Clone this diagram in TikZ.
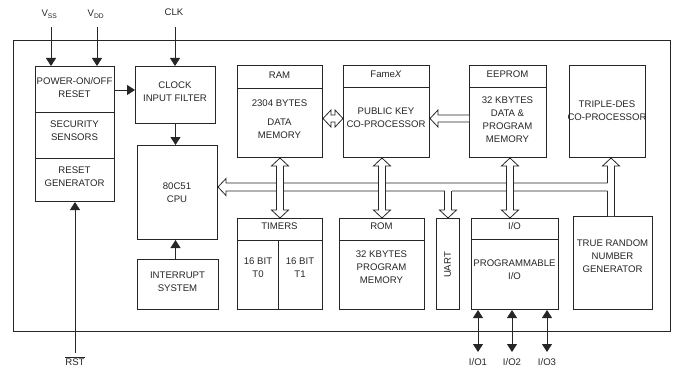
\documentclass[tikz,border=0pt]{standalone}
\usepackage{fontspec}
\setmainfont{Liberation Sans}
\usetikzlibrary{calc,arrows.meta}

% sizes of the hollow bus arrows
\newcommand{\stemw}{3.5pt}
\newcommand{\busw}{4pt}
\newcommand{\headw}{8.5pt}
\newcommand{\headl}{8pt}

% two-headed vertical bus arrow: #1 upper tip, #2 lower tip (x taken from #2)
\newcommand{\vbus}[2]{%
  \draw[hollow] let \p1=(#1), \p2=(#2) in
    (\x2-\stemw,\y1-\headl) -- (\x2-\headw,\y1-\headl) -- (\x2,\y1)
    -- (\x2+\headw,\y1-\headl) -- (\x2+\stemw,\y1-\headl)
    -- (\x2+\stemw,\y2+\headl) -- (\x2+\headw,\y2+\headl) -- (\x2,\y2)
    -- (\x2-\headw,\y2+\headl) -- (\x2-\stemw,\y2+\headl) -- cycle;}

% two-headed horizontal bus arrow: #1 left tip, #2 right tip (y taken from #1)
\newcommand{\hbus}[2]{%
  \draw[hollow] let \p1=(#1), \p2=(#2) in
    (\x1+\headl,\y1+\stemw) -- (\x1+\headl,\y1+\headw) -- (\x1,\y1)
    -- (\x1+\headl,\y1-\headw) -- (\x1+\headl,\y1-\stemw)
    -- (\x2-\headl,\y1-\stemw) -- (\x2-\headl,\y1-\headw) -- (\x2,\y1)
    -- (\x2-\headl,\y1+\headw) -- (\x2-\headl,\y1+\stemw) -- cycle;}

% left pointing arrow with open tail: tip #1, tail #2, half width #3,
% outline stops #4 before the tail
\newcommand{\hleft}[4]{%
  \fill[white] let \p1=(#1), \p2=(#2) in (\x1+\headl,\y1-#3) rectangle (\x2,\y1+#3);
  \draw[hollow] let \p1=(#1), \p2=(#2) in
    (\x2-#4,\y1+#3) -- (\x1+\headl,\y1+#3) -- (\x1+\headl,\y1+\headw) -- (\x1,\y1)
    -- (\x1+\headl,\y1-\headw) -- (\x1+\headl,\y1-#3) -- (\x2-#4,\y1-#3);}

% vertical arrow with open tail: tip #1, root #2, white overlap #3 past the root
\newcommand{\vbranch}[3]{%
  \fill[white] let \p1=(#1), \p2=(#2), \n1={(\y1-\y2)/abs(\y1-\y2)} in
    ({\x1-\stemw},{\y2-\n1*#3}) rectangle ({\x1+\stemw},{\y1-\n1*\headl});
  \draw[hollow] let \p1=(#1), \p2=(#2), \n1={(\y1-\y2)/abs(\y1-\y2)},
      \n2={\y1-\n1*\headl} in
    (\x1-\stemw,\y2) -- (\x1-\stemw,\n2) -- (\x1-\headw,\n2)
    -- (\x1,\y1) -- (\x1+\headw,\n2) -- (\x1+\stemw,\n2)
    -- (\x1+\stemw,\y2);}

\begin{document}
\begin{tikzpicture}[x=1pt, y=-1pt,
  font=\fontsize{9.6}{13}\selectfont, text=black!85,
  blk/.style={draw=black!85, line width=1pt, fill=white, inner sep=0pt, anchor=north west},
  txt/.style={align=center, inner sep=0pt},
  sig/.style={draw=black!85, line width=1pt, -{Triangle[width=10pt,length=8pt]}},
  hollow/.style={draw=black!85, line width=0.8pt, fill=white, line join=miter}]
  \useasboundingbox (0,0) rectangle (674,369);

  % chip outline
  \draw[draw=black!85, line width=1pt] (13,41) rectangle (670,331);

  % blocks
  \node[blk, minimum width=79pt, minimum height=135pt] (power)  at (35,66)  {};
  \node[blk, minimum width=80pt, minimum height=57pt]  (clock)  at (135,66) {};
  \node[blk, minimum width=80pt, minimum height=94pt]  (cpu)    at (137,145) {};
  \node[blk, minimum width=81pt, minimum height=50pt]  (intr)   at (137,259) {};
  \node[blk, minimum width=85pt, minimum height=92pt]  (ram)    at (237,65) {};
  \node[blk, minimum width=86pt, minimum height=92pt]  (fame)   at (343,65) {};
  \node[blk, minimum width=77pt, minimum height=92pt]  (eeprom) at (469,65) {};
  \node[blk, minimum width=76pt, minimum height=92pt]  (tdes)   at (569,65) {};
  \node[blk, minimum width=85pt, minimum height=91pt]  (timers) at (237,218) {};
  \node[blk, minimum width=85pt, minimum height=91pt]  (rom)    at (339,218) {};
  \node[blk, minimum width=23pt, minimum height=91pt]  (uart)   at (436,218) {};
  \node[blk, minimum width=87pt, minimum height=91pt]  (io)     at (471,218) {};
  \node[blk, minimum width=79pt, minimum height=93pt]  (trng)   at (573,216) {};

  % header and section lines
  \draw[draw=black!85, line width=1pt]
    ([yshift=-46pt]power.north west) -- ([yshift=-46pt]power.north east)
    ([yshift=-92pt]power.north west) -- ([yshift=-92pt]power.north east)
    ([yshift=-23pt]ram.north west) -- ([yshift=-23pt]ram.north east)
    ([yshift=-22pt]fame.north west) -- ([yshift=-22pt]fame.north east)
    ([yshift=-22pt]eeprom.north west) -- ([yshift=-22pt]eeprom.north east)
    ([yshift=-22pt]timers.north west) -- ([yshift=-22pt]timers.north east)
    ([xshift=41pt,yshift=-22pt]timers.north west) -- ([xshift=41pt]timers.south west)
    ([yshift=-22pt]rom.north west) -- ([yshift=-22pt]rom.north east)
    ([yshift=-21pt]io.north west) -- ([yshift=-21pt]io.north east);

  % block texts
  \node[txt] (pwrt)  at (74.5,88)   {POWER-ON/OFF\\RESET};
  \node[txt] (sect)  at (74.5,131)  {SECURITY\\SENSORS};
  \node[txt] (rgent) at (74.5,176.5) {RESET\\GENERATOR};
  \node[txt] (clkt)  at (175,91.5)  {CLOCK\\INPUT FILTER};
  \node[txt] (cput)  at (177,193)   {80C51\\CPU};
  \node[txt] (intt)  at (177.5,281.5) {INTERRUPT\\SYSTEM};
  \node[txt] (ramh)  at (279.5,75)  {RAM};
  \node[txt] (ramsz) at (279.5,103) {2304 BYTES};
  \node[txt] (ramt)  at (279.5,128.5) {DATA\\MEMORY};
  \node[txt] (fameh) at (386,74)    {Fame\textit{X}};
  \node[txt] (famet) at (386,118)   {PUBLIC KEY\\CO-PROCESSOR};
  \node[txt] (eeh)   at (507.5,74)  {EEPROM};
  \node[txt] (eet)   at (507.5,119.5) {32 KBYTES\\DATA \&\\PROGRAM\\MEMORY};
  \node[txt] (tdest) at (607,111)   {TRIPLE-DES\\CO-PROCESSOR};
  \node[txt] (timh)  at (279.5,226) {TIMERS};
  \node[txt] (t0t)   at (258,268)   {16 BIT\\T0};
  \node[txt] (t1t)   at (300,268)   {16 BIT\\T1};
  \node[txt] (romh)  at (381.5,226) {ROM};
  \node[txt] (romt)  at (381.5,267.5) {32 KBYTES\\PROGRAM\\MEMORY};
  \node[txt, rotate=90] (uartt) at (447.5,265) {UART};
  \node[txt] (ioh)   at (514.5,226) {I/O};
  \node[txt] (iot)   at (514.5,269.5) {PROGRAMMABLE\\I/O};
  \node[txt] (trngt) at (612.5,256.5) {TRUE RANDOM\\NUMBER\\GENERATOR};

  % pins
  \node (vsst)  at (49.5,14) {V\textsubscript{SS}};
  \node (vddt)  at (96,14)   {V\textsubscript{DD}};
  \node (clkt2) at (174,12.5) {CLK};
  \node (rstt)  at (75,361)  {$\overline{\mbox{RST}}$};
  \coordinate (vssin) at (51,27);
  \coordinate (vddin) at (97,27);
  \coordinate (clkin) at (175,27);
  \coordinate (rstin) at (75,353);
  \draw[sig] (vssin) -- (vssin |- power.north);
  \draw[sig] (vddin) -- (vddin |- power.north);
  \draw[sig] (clkin) -- (clkin |- clock.north);
  \draw[sig] (power.east |- 0,90) -- (clock.west |- 0,90);
  \draw[sig] (clock.south) -- (clock.south |- cpu.north);
  \draw[sig] (clock.south |- intr.north) -- (clock.south |- cpu.south);
  \draw[sig] (rstin) -- (rstin |- power.south);
  \foreach \x/\n in {478/1, 512/2, 547/3} {
    \coordinate (pin\n) at (\x,352);
    \draw[sig, {Triangle[width=10pt,length=8pt]}-{Triangle[width=10pt,length=8pt]}]
      (pin\n) -- (pin\n |- io.south);
    \node (iot\n) at (\x,362) {I/O\n};
  }

  % internal bus
  \coordinate (busL) at (cpu.east |- 0,187);
  \coordinate (busR) at (611,187);
  \coordinate (eeio) at (510,187);
  \coordinate (uartroot) at (uart.north |- 0,191);
  \coordinate (tdestip) at (busR |- tdes.south);
  \coordinate (tdesroot) at (busR |- trng.north);
  \coordinate (famebus) at (rom.north |- fame.south);
  \coordinate (eetip) at (eeio |- eeprom.south);
  \coordinate (iotip) at (eeio |- io.north);
  \coordinate (ramport) at ($(ram.east)+(0,7)$);
  \coordinate (fameport) at ($(fame.east)+(0,7)$);
  \vbranch{tdestip}{tdesroot}{0pt}
  \hleft{busL}{busR}{\busw}{\stemw}
  \vbranch{uart.north}{uartroot}{4pt}
  \vbus{ram.south}{timers.north}
  \vbus{famebus}{rom.north}
  \vbus{eetip}{iotip}
  \hbus{ramport}{fame.west}
  \hleft{fameport}{eeprom.west}{\stemw}{0pt}
\end{tikzpicture}
\end{document}
